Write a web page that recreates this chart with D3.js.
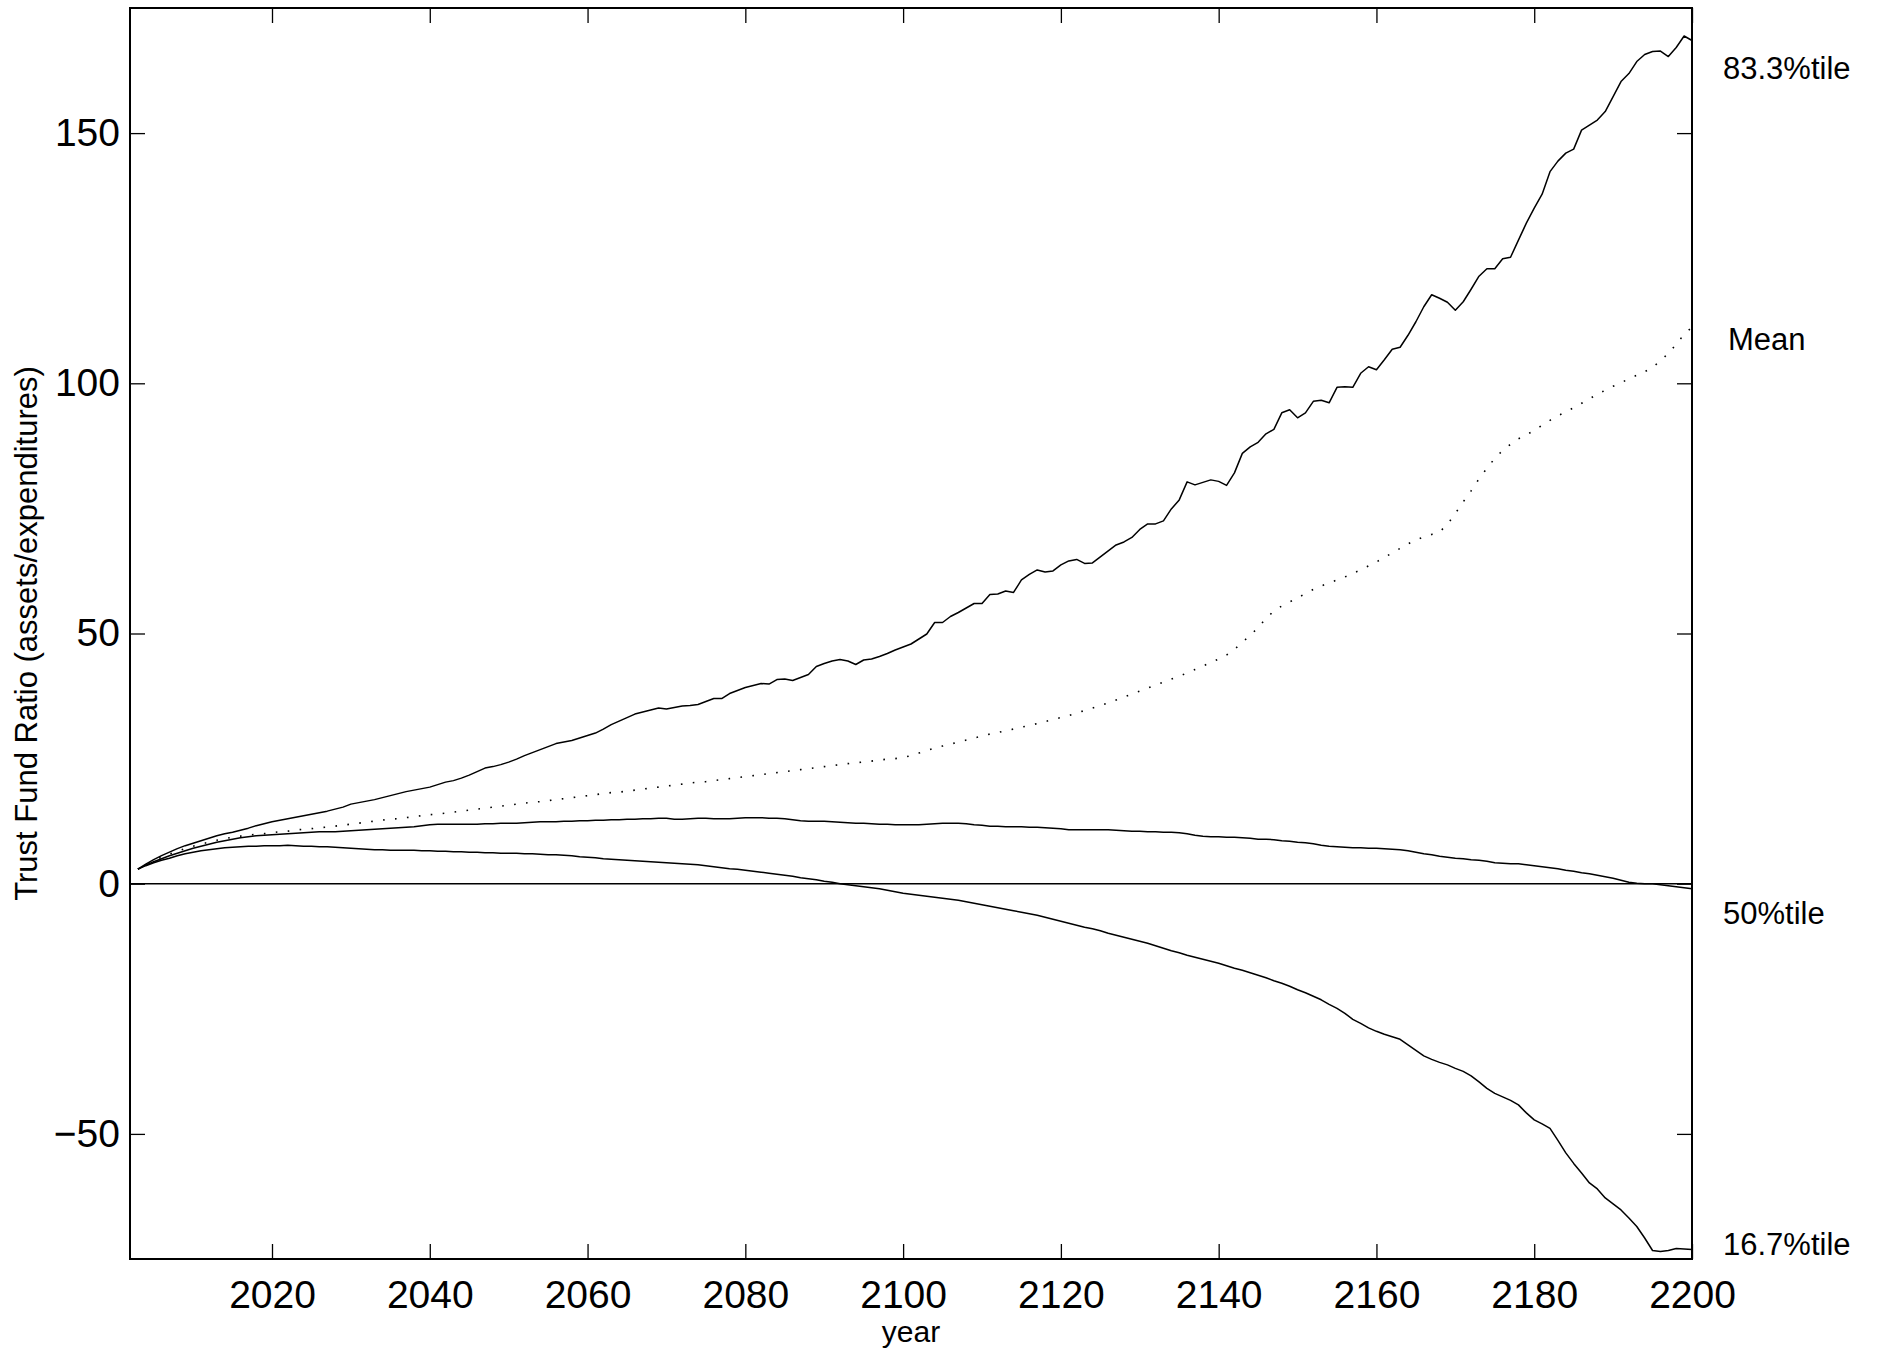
<!DOCTYPE html>
<html lang="en">
<head>
<meta charset="utf-8">
<title>Trust Fund Ratio</title>
<script src="https://d3js.org/d3.v7.min.js"></script>
<style>
  body { margin: 0; background: #fff; }
  svg text { font-family: "Liberation Sans", Arial, Helvetica, sans-serif; fill: #000; }
</style>
</head>
<body>
<script>
// years 2003..2200, one value per year
const years = d3.range(2003, 2201);

const upper = [
  2.9, 3.9, 4.8, 5.6, 6.3, 7.0, 7.6, 8.1, 8.6, 9.1, 9.6, 10.0, 10.3, 10.7, 11.1, 11.6, 12.0,
  12.4, 12.7, 13.0, 13.3, 13.6, 13.9, 14.2, 14.5, 14.9, 15.3,
  15.9, 16.2, 16.5, 16.8, 17.2, 17.6, 18.0, 18.4, 18.7, 19.0,
  19.3, 19.8, 20.3, 20.6, 21.1, 21.7, 22.4, 23.1, 23.4, 23.8,
  24.3, 24.9, 25.6, 26.2, 26.8, 27.4, 28.0, 28.3, 28.6, 29.1,
  29.6, 30.1, 30.9, 31.8, 32.5, 33.2, 33.9, 34.3, 34.7, 35.1,
  34.9, 35.2, 35.5, 35.6, 35.8, 36.4, 37.0, 37.0, 38.0, 38.6,
  39.2, 39.6, 40.0, 39.9, 40.8, 40.9, 40.6, 41.2, 41.8, 43.4,
  44.0, 44.5, 44.8, 44.5, 43.8, 44.7, 44.9, 45.4, 46.0, 46.7,
  47.3, 47.9, 48.9, 49.9, 52.2, 52.2, 53.4, 54.2, 55.1, 56.0,
  56.0, 57.8, 57.9, 58.5, 58.2, 60.7, 61.8, 62.7, 62.3, 62.5,
  63.7, 64.5, 64.8, 64.0, 64.1, 65.3, 66.5, 67.7, 68.3, 69.2,
  70.8, 71.9, 71.9, 72.5, 74.9, 76.7, 80.3, 79.7, 80.2, 80.7,
  80.4, 79.6, 82.1, 86.0, 87.3, 88.2, 89.9, 90.8, 94.1, 94.7,
  93.1, 94.1, 96.4, 96.6, 96.1, 99.2, 99.3, 99.2, 102.0, 103.3,
  102.7, 104.7, 106.8, 107.2, 109.6, 112.3, 115.3, 117.7, 117.0, 116.2,
  114.6, 116.3, 118.8, 121.4, 122.9, 122.9, 124.9, 125.2, 128.6, 132.0,
  135.0, 137.8, 142.3, 144.4, 146.0, 146.8, 150.6, 151.6, 152.6, 154.3,
  157.3, 160.3, 161.9, 164.3, 165.7, 166.3, 166.4, 165.3, 167.1, 169.4,
  168.5
];

const mean = [
  2.9, 3.8, 4.6, 5.3, 5.9, 6.5, 7.0, 7.5, 7.9, 8.3, 8.7, 9.0, 9.3, 9.5, 9.7, 9.9, 10.0,
  10.2, 10.4, 10.5, 10.7, 10.9, 11.0, 11.2, 11.3, 11.5, 11.7,
  11.9, 12.1, 12.3, 12.5, 12.7, 12.9, 13.0, 13.2, 13.4, 13.6,
  13.8, 13.9, 14.1, 14.3, 14.5, 14.7, 14.9, 15.1, 15.3, 15.5,
  15.7, 15.9, 16.1, 16.3, 16.4, 16.6, 16.8, 17.0, 17.2, 17.4,
  17.6, 17.8, 18.0, 18.2, 18.3, 18.5, 18.7, 18.9, 19.1, 19.3,
  19.5, 19.7, 19.9, 20.1, 20.3, 20.4, 20.6, 20.8, 21.0, 21.2,
  21.4, 21.6, 21.8, 22.0, 22.2, 22.4, 22.6, 22.8, 23.0, 23.2,
  23.4, 23.6, 23.8, 24.0, 24.2, 24.3, 24.5, 24.7, 24.9, 25.0,
  25.2, 25.6, 26.1, 26.6, 27.1, 27.5, 27.9, 28.3, 28.7, 29.1,
  29.5, 29.9, 30.2, 30.6, 30.9, 31.3, 31.6, 32.0, 32.4, 32.8,
  33.2, 33.6, 34.1, 34.6, 35.1, 35.6, 36.1, 36.7, 37.3, 37.9,
  38.5, 39.1, 39.7, 40.3, 40.9, 41.5, 42.1, 42.8, 43.5, 44.2,
  44.9, 45.7, 46.8, 48.3, 49.6, 51.2, 53.0, 54.5, 55.5, 56.3,
  57.1, 58.0, 58.8, 59.5, 60.1, 60.7, 61.3, 62.0, 62.7, 63.5,
  64.3, 65.2, 66.1, 67.0, 67.9, 68.7, 69.3, 69.8, 70.3, 71.8,
  74.0, 76.3, 78.5, 80.9, 83.0, 85.0, 86.6, 87.8, 88.9, 89.7,
  90.6, 91.6, 92.6, 93.5, 94.3, 95.1, 96.0, 96.9, 97.8, 98.6,
  99.4, 100.1, 100.9, 101.6, 102.3, 103.2, 104.5, 106.0, 107.8, 109.8,
  111.2
];

const median = [
  2.9, 3.7, 4.4, 5.0, 5.6, 6.1, 6.6, 7.1, 7.5, 7.9, 8.3, 8.6, 8.9, 9.2, 9.4, 9.6, 9.7,
  9.8, 9.9, 10.0, 10.1, 10.2, 10.3, 10.4, 10.4, 10.4, 10.5,
  10.6, 10.7, 10.8, 10.9, 11.0, 11.1, 11.2, 11.3, 11.4, 11.6,
  11.8, 11.9, 11.9, 11.9, 11.9, 11.9, 11.9, 12.0, 12.0, 12.1,
  12.1, 12.1, 12.2, 12.3, 12.4, 12.4, 12.4, 12.5, 12.5, 12.6,
  12.6, 12.7, 12.7, 12.8, 12.8, 12.9, 12.9, 13.0, 13.0, 13.1,
  13.1, 12.9, 12.9, 13.0, 13.1, 13.1, 13.0, 13.0, 13.0, 13.1,
  13.2, 13.2, 13.2, 13.1, 13.1, 13.0, 12.8, 12.6, 12.5, 12.5,
  12.5, 12.4, 12.3, 12.2, 12.1, 12.1, 12.0, 11.9, 11.9, 11.8,
  11.8, 11.8, 11.8, 11.9, 12.0, 12.1, 12.1, 12.1, 12.0, 11.8,
  11.7, 11.5, 11.5, 11.4, 11.4, 11.4, 11.3, 11.3, 11.2, 11.1,
  11.0, 10.8, 10.8, 10.8, 10.8, 10.8, 10.8, 10.7, 10.6, 10.5,
  10.5, 10.4, 10.4, 10.3, 10.3, 10.2, 10.0, 9.7, 9.5, 9.4,
  9.4, 9.3, 9.3, 9.2, 9.1, 8.9, 8.9, 8.8, 8.6, 8.5,
  8.3, 8.2, 8.0, 7.7, 7.5, 7.4, 7.3, 7.2, 7.2, 7.1,
  7.1, 7.0, 6.9, 6.8, 6.6, 6.3, 6.0, 5.8, 5.5, 5.3,
  5.1, 5.0, 4.8, 4.7, 4.5, 4.2, 4.1, 4.0, 4.0, 3.8,
  3.6, 3.4, 3.2, 3.0, 2.7, 2.5, 2.2, 2.0, 1.7, 1.4,
  1.1, 0.7, 0.3, 0.1, 0.0, 0.0, -0.2, -0.4, -0.6, -0.8,
  -1.0
];

const lower = [
  2.9, 3.6, 4.2, 4.7, 5.1, 5.6, 6.0, 6.3, 6.6, 6.8, 7.0, 7.2, 7.3, 7.4, 7.5, 7.5, 7.6,
  7.6, 7.6, 7.7, 7.6, 7.5, 7.5, 7.4, 7.4, 7.3, 7.2,
  7.1, 7.0, 6.9, 6.8, 6.8, 6.7, 6.7, 6.7, 6.7, 6.6,
  6.6, 6.5, 6.5, 6.4, 6.4, 6.3, 6.3, 6.2, 6.2, 6.1,
  6.1, 6.1, 6.0, 6.0, 5.9, 5.8, 5.8, 5.7, 5.6, 5.4,
  5.3, 5.2, 5.0, 4.9, 4.8, 4.7, 4.6, 4.5, 4.4, 4.3,
  4.2, 4.1, 4.0, 3.9, 3.8, 3.6, 3.4, 3.2, 3.0, 2.9,
  2.7, 2.5, 2.3, 2.1, 1.9, 1.7, 1.5, 1.2, 1.0, 0.8,
  0.5, 0.3, 0.0, -0.2, -0.4, -0.6, -0.8, -1.0, -1.3, -1.6,
  -1.9, -2.1, -2.3, -2.5, -2.7, -2.9, -3.1, -3.3, -3.6, -3.9,
  -4.2, -4.5, -4.8, -5.1, -5.4, -5.7, -6.0, -6.3, -6.7, -7.1,
  -7.5, -7.9, -8.3, -8.7, -9.0, -9.4, -9.9, -10.3, -10.7, -11.1,
  -11.5, -11.9, -12.4, -12.9, -13.4, -13.8, -14.3, -14.7, -15.1, -15.5,
  -15.9, -16.4, -16.9, -17.3, -17.8, -18.3, -18.8, -19.4, -19.9, -20.5,
  -21.2, -21.8, -22.5, -23.2, -24.1, -24.9, -25.9, -27.1, -27.9, -28.8,
  -29.5, -30.1, -30.6, -31.1, -32.2, -33.3, -34.4, -35.1, -35.7, -36.2,
  -36.9, -37.5, -38.4, -39.6, -40.9, -41.9, -42.6, -43.3, -44.2, -45.8,
  -47.2, -48.0, -48.9, -51.3, -53.8, -55.9, -57.8, -59.8, -61.0, -62.8,
  -64.0, -65.2, -66.8, -68.5, -70.8, -73.3, -73.5, -73.3, -72.9, -73.0,
  -73.1
];

const xTicks = [2020, 2040, 2060, 2080, 2100, 2120, 2140, 2160, 2180, 2200];
const yTicks = [-50, 0, 50, 100, 150];
const seriesLabels = ["83.3%tile", "Mean", "50%tile", "16.7%tile"];

const width = 1878;
const height = 1351;
const plotLeft = 130, plotRight = 1692, plotTop = 8, plotBottom = 1259;

const svg = d3.select("body").append("svg")
    .attr("width", width)
    .attr("height", height);

const x = d3.scaleLinear().domain([2002, 2200]).range([plotLeft, plotRight]);
const y = d3.scaleLinear().domain([-75, 175]).range([plotBottom, plotTop]);

// axes, MATLAB style: ticks pointing inward on all four sides
const bottomAxis = d3.axisBottom(x).tickValues(xTicks).tickFormat(d3.format("d"))
    .tickSizeInner(-15).tickSizeOuter(0).tickPadding(21);
const topAxis = d3.axisTop(x).tickValues(xTicks).tickFormat("")
    .tickSizeInner(-15).tickSizeOuter(0);
const leftAxis = d3.axisLeft(y).tickValues(yTicks).tickFormat(d => d < 0 ? "\u2212" + Math.abs(d) : d)
    .tickSizeInner(-15).tickSizeOuter(0).tickPadding(10);
const rightAxis = d3.axisRight(y).tickValues(yTicks).tickFormat("")
    .tickSizeInner(-15).tickSizeOuter(0);

function styleAxis(g) {
  g.select(".domain").remove();
  g.selectAll(".tick line").attr("stroke", "#000").attr("stroke-width", 1.3);
  g.selectAll(".tick text")
    .style("font-family", "'Liberation Sans', Arial, Helvetica, sans-serif")
    .style("font-size", "39px")
    .attr("fill", "#000");
}

svg.append("g").attr("transform", "translate(0," + plotBottom + ")").call(bottomAxis).call(styleAxis);
svg.append("g").attr("transform", "translate(0," + plotTop + ")").call(topAxis).call(styleAxis);
svg.append("g").attr("transform", "translate(" + plotLeft + ",0)").call(leftAxis).call(styleAxis);
svg.append("g").attr("transform", "translate(" + plotRight + ",0)").call(rightAxis).call(styleAxis);

// zero line
svg.append("line")
    .attr("x1", plotLeft).attr("x2", plotRight)
    .attr("y1", y(0)).attr("y2", y(0))
    .attr("stroke", "#000").attr("stroke-width", 1.4);

// box
svg.append("rect")
    .attr("x", plotLeft).attr("y", plotTop)
    .attr("width", plotRight - plotLeft).attr("height", plotBottom - plotTop)
    .attr("fill", "none").attr("stroke", "#000").attr("stroke-width", 2);

const line = d3.line()
    .x((d, i) => x(years[i]))
    .y(d => y(d));

[upper, median, lower].forEach(s => {
  svg.append("path")
      .datum(s)
      .attr("d", line)
      .attr("fill", "none")
      .attr("stroke", "#000")
      .attr("stroke-width", 1.5)
      .attr("stroke-linejoin", "round");
});

svg.append("path")
    .datum(mean)
    .attr("d", line)
    .attr("fill", "none")
    .attr("stroke", "#000")
    .attr("stroke-width", 1.6)
    .attr("stroke-dasharray", "1.6 10.4");

// series labels to the right of the box
const labelPos = [[1723, 79], [1728, 350], [1723, 924], [1723, 1255]];
seriesLabels.forEach((t, i) => {
  svg.append("text")
      .attr("x", labelPos[i][0])
      .attr("y", labelPos[i][1])
      .style("font-size", "31px")
      .text(t);
});

// axis titles
svg.append("text")
    .attr("x", (plotLeft + plotRight) / 2)
    .attr("y", 1342)
    .attr("text-anchor", "middle")
    .style("font-size", "30px")
    .text("year");

svg.append("text")
    .attr("transform", "translate(37," + ((plotTop + plotBottom) / 2) + ") rotate(-90)")
    .attr("text-anchor", "middle")
    .style("font-size", "31px")
    .text("Trust Fund Ratio (assets/expenditures)");
</script>
</body>
</html>
